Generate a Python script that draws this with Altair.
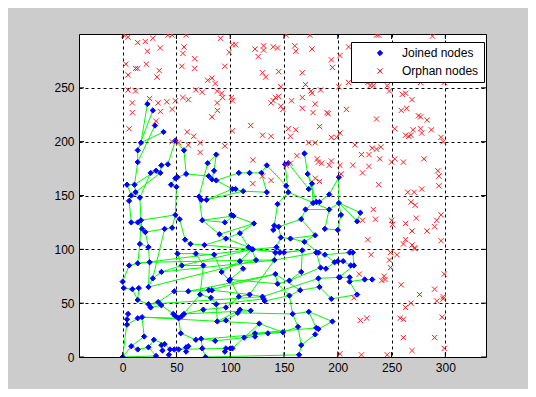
import altair as alt
import pandas as pd

# ---- Joined nodes (blue) ----
joined_x = [23, 28, 30, 38, 49, 17, 14, 14, 4, 11,
            8, 6, 12, 16, 8, 14, 17, 18, 21, 16,
            24, 26, 31, 35, 36, 42, 57, 45, 49, 51,
            50, 59, 79, 85, 80, 83, 87, 87, 71, 73,
            78, 102, 103, 95, 96, 90, 49, 53, 46, 39,
            74, 58, 63, 76, 169, 154, 151, 134, 108, 118,
            129, 105, 112, 134, 152, 154, 172, 176, 173, 177,
            180, 183, 192, 144, 170, 192, 201, 166, 188, 179,
            200, 169, 101, 122, 109, 141, 140, 145, 147, 156,
            143, 117, 121, 182, 150, 201, 203, 221, 218, 211,
            214, 6, 14, 0, 1, 9, 15, 25, 24, 28,
            36, 48, 51, 55, 61, 68, 75, 85, 92, 99,
            14, 24, 26, 33, 36, 47, 49, 52, 55, 57,
            72, 80, 83, 82, 75, 87, 96, 88, 96, 5,
            4, 4, 14, 18, 20, 8, 14, 24, 29, 36,
            37, 39, 44, 43, 31, 48, 52, 54, 59, 59,
            61, 68, 73, 74, 77, 86, 96, 95, 100, 0,
            120, 109, 124, 112, 142, 146, 141, 167, 180, 188,
            197, 142, 166, 184, 189, 182, 201, 144, 155, 165,
            183, 100, 108, 118, 130, 131, 132, 155, 194, 109,
            107, 119, 173, 158, 195, 127, 163, 180, 182, 179,
            113, 123, 123, 135, 149, 166, 164, 102, 200, 205,
            212, 215, 202, 211, 211, 225, 232, 218]
joined_y = [235, 229, 215, 209, 201, 199, 192, 181, 160, 160,
            150, 145, 153, 148, 125, 125, 127, 119, 116, 105,
            102, 171, 173, 171, 178, 179, 192, 160, 166, 167,
            158, 170, 180, 173, 168, 165, 164, 188, 149, 146,
            146, 156, 131, 125, 110, 114, 132, 128, 120, 119,
            127, 109, 105, 104, 189, 180, 179, 178, 171, 171,
            171, 156, 154, 153, 159, 153, 170, 161, 156, 143,
            144, 144, 151, 142, 137, 137, 143, 128, 119, 113,
            118, 107, 132, 124, 115, 122, 118, 121, 111, 110,
            102, 102, 100, 97, 97, 167, 132, 134, 126, 97,
            97, 85, 87, 70, 64, 63, 64, 88, 65, 73,
            79, 61, 96, 85, 61, 96, 85, 95, 79, 71,
            53, 49, 46, 51, 48, 40, 38, 36, 38, 40,
            58, 62, 62, 55, 44, 49, 46, 33, 34, 40,
            35, 30, 36, 37, 19, 10, 7, 9, 16, 11,
            6, 12, 7, 2, 1, 7, 7, 22, 9, 5,
            10, 16, 17, 8, 0, 15, 8, 5, 8, 0,
            100, 89, 90, 82, 97, 97, 90, 99, 97, 95,
            88, 77, 79, 83, 82, 73, 74, 68, 71, 62,
            65, 72, 56, 58, 56, 54, 52, 57, 54, 44,
            41, 43, 42, 40, 33, 31, 28, 27, 26, 21,
            18, 22, 19, 22, 23, 11, 2, 8, 89, 89,
            85, 85, 74, 74, 70, 72, 72, 58]

# ---- Orphan nodes (red) ----
orphan_x = [1, 5, 14, 21, 28, 23, 35, 42, 46, 59, 57, 56, 67, 55, 67, 91, 102, 99, 95, 3,
            5, 12, 14, 22, 34, 32, 79, 83, 86, 88, 92, 93, 101, 102, 5, 12, 25, 9, 9, 33,
            35, 41, 49, 46, 56, 61, 68, 74, 88, 88, 83, 31, 6, 60, 66, 61, 72, 95, 102, 46,
            52, 72,
            105, 123, 131, 131, 126, 140, 144, 130, 133, 145, 152, 174, 160, 161, 176, 194, 195, 167, 201, 147,
            170, 175, 176, 184, 142, 145, 140, 138, 147, 149, 157, 167, 167, 179, 177, 190, 191, 183, 119, 130,
            138, 154, 161, 156, 194, 199, 173, 179,
            236, 238, 288, 210, 202, 210, 228, 230, 233, 246, 248, 277, 299, 260, 263, 269, 208, 236, 259, 264,
            275, 277, 283, 253, 270, 277, 287, 278, 263, 268, 266, 296, 298, 202,
            121, 130, 138, 121, 162, 152, 156, 181, 182, 185, 192, 194, 179, 183,
            216, 232, 236, 240, 222, 229, 239, 253, 250, 261, 280, 293, 294, 294, 278, 265, 271, 268, 272, 202,
            203, 214, 223, 229, 238, 233, 235, 223, 250, 251, 263, 273, 292, 290, 296, 269, 283, 263, 261, 269,
            272, 296, 228, 231, 249, 255,
            248, 249, 220, 243, 244, 241, 215, 259, 271, 276, 290, 299, 298, 298, 292, 268, 263, 221, 227, 258,
            261, 297, 261, 290, 269, 299, 202, 222, 246]
orphan_y = [299, 297, 292, 293, 296, 284, 287, 299, 299, 299, 288, 282, 277, 270, 268, 296, 290, 283, 270, 272,
            262, 268, 268, 272, 266, 260, 257, 259, 254, 247, 245, 241, 241, 238, 248, 247, 240, 236, 227, 236,
            228, 237, 238, 230, 241, 239, 248, 246, 236, 229, 223, 219, 212, 209, 205, 197, 199, 196, 210, 200,
            199, 190,
            290, 286, 289, 285, 279, 288, 287, 264, 260, 265, 299, 299, 289, 284, 286, 276, 269, 264, 251, 251,
            253, 247, 245, 248, 241, 242, 238, 236, 233, 230, 238, 241, 231, 235, 227, 227, 226, 214, 215, 206,
            205, 212, 211, 205, 204, 204, 199, 199,
            299, 299, 298, 288, 280, 255, 255, 252, 252, 252, 247, 255, 255, 244, 245, 239, 230, 221, 229, 231,
            224, 223, 220, 212, 211, 212, 211, 208, 206, 206, 205, 204, 200, 208,
            183, 168, 164, 161, 187, 178, 180, 184, 181, 180, 178, 182, 166, 163,
            197, 194, 193, 195, 188, 188, 184, 184, 181, 181, 184, 173, 168, 159, 156, 153, 153, 144, 141, 178,
            170, 178, 171, 177, 160, 137, 128, 127, 127, 123, 124, 129, 127, 121, 132, 117, 117, 109, 105, 104,
            101, 108, 109, 95, 97, 95,
            90, 83, 77, 75, 72, 71, 55, 67, 101, 58, 63, 77, 56, 54, 52, 50, 46, 34, 36, 36,
            35, 37, 18, 18, 6, 8, 3, 2, 2]

# ---- Links between joined nodes (index pairs) ----
edge_from = [5, 6, 7, 5, 4, 5, 6, 7, 9, 8, 10, 9, 12, 13, 11, 14, 15, 16, 17, 18, 19, 19,
             9, 21, 22, 23, 24, 25, 26, 27, 28, 29, 30, 31, 32, 32, 33, 34, 35, 36, 37, 38, 39, 40, 38,
             46, 47, 46, 48, 48, 50, 45, 43, 43, 51, 52, 53, 12, 13, 20, 19, 49,
             54, 55, 56, 57, 58, 59, 60, 41, 62, 63, 64, 65, 66, 67, 69, 69, 70, 71, 72, 74, 74, 77, 78, 78,
             79, 81, 42, 83, 85, 86, 87, 88, 90, 91, 94, 73, 75, 76, 76, 76, 96, 36, 41, 44, 84, 92, 89, 93,
             80, 97, 82,
             101, 101, 103, 104, 105, 102, 107, 108, 109, 110, 113, 113, 115, 117, 118, 111, 114, 131, 106, 120,
             121, 123, 122, 124, 125, 126, 127, 128, 128, 130, 133, 134, 135, 137, 139, 140, 142, 143, 144, 144,
             145, 146, 147, 148, 149, 151, 152, 154, 155, 156, 157, 157, 161, 162, 163, 165, 166, 168, 169, 169,
             159, 158, 149, 112, 117, 116, 119, 132, 136, 138, 141, 105, 122, 134,
             170, 171, 172, 174, 176, 176, 177, 178, 179, 182, 183, 185, 181, 187, 189, 191, 192, 193, 194, 195,
             197, 198, 199, 201, 202, 203, 206, 215, 207, 207, 209, 204, 205, 210, 211, 213, 214, 217, 212, 178,
             184, 185, 173, 172, 175, 197, 186, 180,
             218, 219, 220, 222, 223, 224, 225, 224, 99, 99, 100, 221,
             102, 108, 121, 143, 129, 114, 118, 191, 196, 200, 211, 194, 188, 53, 44, 45, 50, 16, 18, 40,
             87, 89, 94, 90, 161, 165, 168, 164, 169, 155, 202, 198,
             107, 110, 113, 131, 135, 137, 205, 181, 187, 176, 170, 92, 65]
edge_to = [0, 1, 2, 3, 26, 6, 7, 9, 8, 10, 11, 12, 13, 16, 14, 15, 17, 17, 18, 20, 16, 20,
           22, 22, 23, 24, 25, 4, 31, 28, 29, 31, 27, 34, 37, 38, 35, 35, 36, 41, 33, 39, 40, 41, 50,
           47, 51, 30, 49, 46, 45, 44, 42, 50, 52, 53, 44, 23, 21, 107, 102, 109,
           66, 68, 65, 64, 59, 60, 57, 62, 63, 60, 65, 73, 67, 68, 67, 74, 66, 72, 95, 75, 77, 79, 80, 75,
           81, 93, 83, 84, 86, 87, 88, 89, 88, 92, 90, 85, 76, 95, 97, 98, 76, 58, 61, 84, 91, 90, 81, 178,
           96, 98, 42,
           102, 103, 104, 105, 106, 107, 108, 109, 110, 113, 116, 112, 116, 118, 119, 114, 131, 132, 120, 121,
           123, 111, 124, 125, 126, 127, 128, 129, 130, 133, 135, 136, 137, 138, 140, 141, 143, 127, 143, 145,
           146, 147, 148, 151, 150, 152, 153, 147, 156, 158, 127, 161, 162, 163, 164, 162, 167, 166, 145, 139,
           160, 159, 151, 115, 115, 130, 191, 193, 192, 200, 142, 120, 121, 129,
           171, 173, 170, 175, 174, 193, 182, 179, 180, 188, 184, 186, 187, 188, 190, 192, 193, 194, 196, 196,
           189, 190, 200, 199, 203, 206, 215, 216, 208, 202, 215, 208, 210, 211, 213, 214, 206, 210, 211, 183,
           180, 190, 191, 176, 177, 203, 222, 218,
           219, 220, 221, 223, 224, 225, 226, 227, 100, 179, 221, 186,
           170, 172, 194, 205, 201, 181, 171, 187, 197, 203, 207, 185, 183, 170, 91, 83, 42, 46, 49, 62,
           77, 79, 177, 174, 214, 212, 217, 216, 154, 166, 204, 227,
           172, 176, 170, 181, 195, 199, 214, 189, 197, 178, 175, 94, 75]

types = ["Joined nodes", "Orphan nodes"]
x_ticks = [0, 50, 100, 150, 200, 250, 300]
y_ticks = [0, 50, 100, 150, 200, 250]

nodes = pd.concat([
    pd.DataFrame({"x": joined_x, "y": joined_y, "type": types[0]}),
    pd.DataFrame({"x": orphan_x, "y": orphan_y, "type": types[1]}),
], ignore_index=True)
edges = pd.DataFrame({
    "x": [joined_x[i] for i in edge_from], "y": [joined_y[i] for i in edge_from],
    "x2": [joined_x[j] for j in edge_to], "y2": [joined_y[j] for j in edge_to],
})

W, H = 407, 323
xs = alt.Scale(domain=[-40.6, 337.8], nice=False, zero=False)
ys = alt.Scale(domain=[0, 300], nice=False, zero=False)
common = dict(grid=True, gridColor="black", gridDash=[3, 3], gridOpacity=1, gridWidth=1,
              domain=False, ticks=False, title=None, labelFont="Liberation Sans",
              labelFontSize=12, labelColor="black")
xax = alt.Axis(values=x_ticks, labelPadding=5, **common)
yax = alt.Axis(values=y_ticks, labelPadding=5, **common)

xpath = "M-1,-1L1,1M-1,1L1,-1"
leg = alt.Legend(title=None, orient="none", legendX=272, legendY=8, fillColor="white",
                 strokeColor="black", padding=5, rowPadding=6, symbolOffset=18, labelOffset=16,
                 labelFont="Liberation Sans", labelFontSize=12, labelColor="black",
                 symbolSize=28, symbolStrokeWidth=1)

lines = alt.Chart(edges).mark_rule(color="#00ff00", strokeWidth=1, clip=True).encode(
    x=alt.X("x:Q", scale=xs, axis=xax), y=alt.Y("y:Q", scale=ys, axis=yax),
    x2="x2:Q", y2="y2:Q")

pts = alt.Chart(nodes).mark_point(filled=True, size=28, strokeWidth=1, opacity=1, clip=True).encode(
    x=alt.X("x:Q", scale=xs, axis=xax), y=alt.Y("y:Q", scale=ys, axis=yax),
    fill=alt.Fill("type:N", scale=alt.Scale(domain=types, range=["#0000ff", "#ff2020"]), legend=leg),
    stroke=alt.Stroke("type:N", scale=alt.Scale(domain=types, range=["#0000ff", "#ff2020"]), legend=leg),
    shape=alt.Shape("type:N", scale=alt.Scale(domain=types, range=["diamond", xpath]), legend=leg),
)

xt = pd.DataFrame({"v": x_ticks})
yt = pd.DataFrame({"v": y_ticks})
tick_b = alt.Chart(xt).mark_rule(color="black").encode(
    x=alt.X("v:Q", scale=xs, axis=xax), y=alt.value(H), y2=alt.value(H - 5))
tick_t = alt.Chart(xt).mark_rule(color="black").encode(
    x=alt.X("v:Q", scale=xs, axis=xax), y=alt.value(0), y2=alt.value(5))
tick_l = alt.Chart(yt).mark_rule(color="black").encode(
    y=alt.Y("v:Q", scale=ys, axis=yax), x=alt.value(0), x2=alt.value(5))
tick_r = alt.Chart(yt).mark_rule(color="black").encode(
    y=alt.Y("v:Q", scale=ys, axis=yax), x=alt.value(W), x2=alt.value(W - 5))

chart = alt.layer(lines, pts, tick_b, tick_t, tick_l, tick_r).properties(
    width=W, height=H,
    autosize=alt.AutoSizeParams(type="none"),
    padding={"left": 71, "top": 26, "right": 42, "bottom": 32},
    background="#cccccc",
).configure_view(stroke="black", strokeWidth=1, fill="white")

chart.save("out.html", embed_options={"renderer": "svg", "actions": False})
